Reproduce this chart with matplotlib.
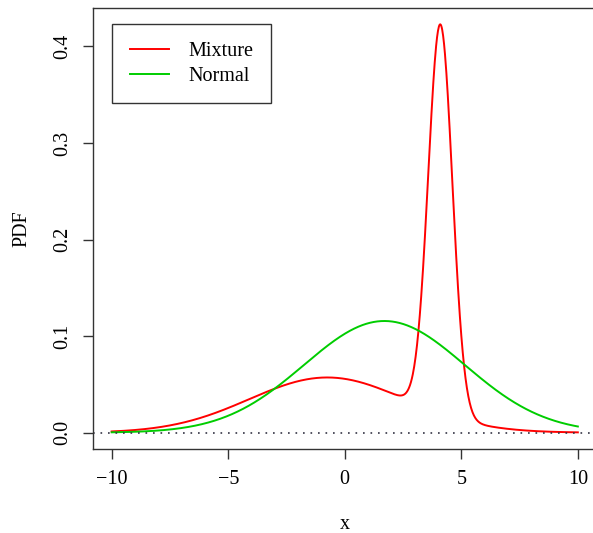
import matplotlib
matplotlib.use('Agg')
import matplotlib.pyplot as plt
import numpy as np

plt.rcParams['font.family'] = ['Liberation Serif', 'DejaVu Serif']

# Mixture components (weight, mean, sd) and the single normal
mix_weights = [0.48, 0.52]
mix_means = [-0.75, 4.1]
mix_sds = [3.35, 0.515]
normal_mean = 1.7
normal_sd = 3.45

x_range = [-10, 10]
x_ticks = [-10, -5, 0, 5, 10]
y_ticks = [0.0, 0.1, 0.2, 0.3, 0.4]


def dnorm(x, mu, sd):
    return np.exp(-0.5 * ((x - mu) / sd) ** 2) / (sd * np.sqrt(2 * np.pi))


x = np.linspace(x_range[0], x_range[1], 1001)
mixture = sum(w * dnorm(x, m, s) for w, m, s in zip(mix_weights, mix_means, mix_sds))
normal = dnorm(x, normal_mean, normal_sd)

fig = plt.figure(figsize=(5.93, 5.33), dpi=100)
ax = fig.add_axes([93 / 593, 84 / 533, 503.5 / 593, 441 / 533])

ax.plot(x, mixture, color='#ff0000', lw=1.4, label='Mixture')
ax.plot(x, normal, color='#00cd00', lw=1.4, label='Normal')
ax.axhline(0, color='#333344', lw=1.2, linestyle=(0, (1, 3.5)))

# R-style 4% padding on both axes
ymax = mixture.max()
ax.set_xlim(-10.8, 10.8)
ax.set_ylim(-0.04 * ymax, ymax * 1.04)

ax.set_xticks(x_ticks)
ax.set_xticklabels(['\u221210', '\u22125', '0', '5', '10'])
ax.set_yticks(y_ticks)
ax.set_yticklabels(['%.1f' % v for v in y_ticks], rotation=90, va='center')
ax.tick_params(direction='out', length=7, width=1, colors='#333333',
               labelsize=14.5, labelcolor='black', pad=8)
for side in ax.spines.values():
    side.set_color('#333333')
    side.set_linewidth(1.0)

ax.set_xlabel('x', fontsize=14.5, labelpad=19)
ax.set_ylabel('PDF', fontsize=14.5, labelpad=16)

leg = ax.legend(loc='upper left', bbox_to_anchor=(19 / 503.5, 1 - 16 / 441),
                fontsize=14.5, frameon=True, fancybox=False, edgecolor='#333333',
                framealpha=1, handlelength=1.95, handletextpad=0.95,
                borderpad=0.88, labelspacing=0.28, borderaxespad=0)
leg.get_frame().set_linewidth(1.0)

fig.savefig('out.png', dpi=100)
plt.close(fig)
